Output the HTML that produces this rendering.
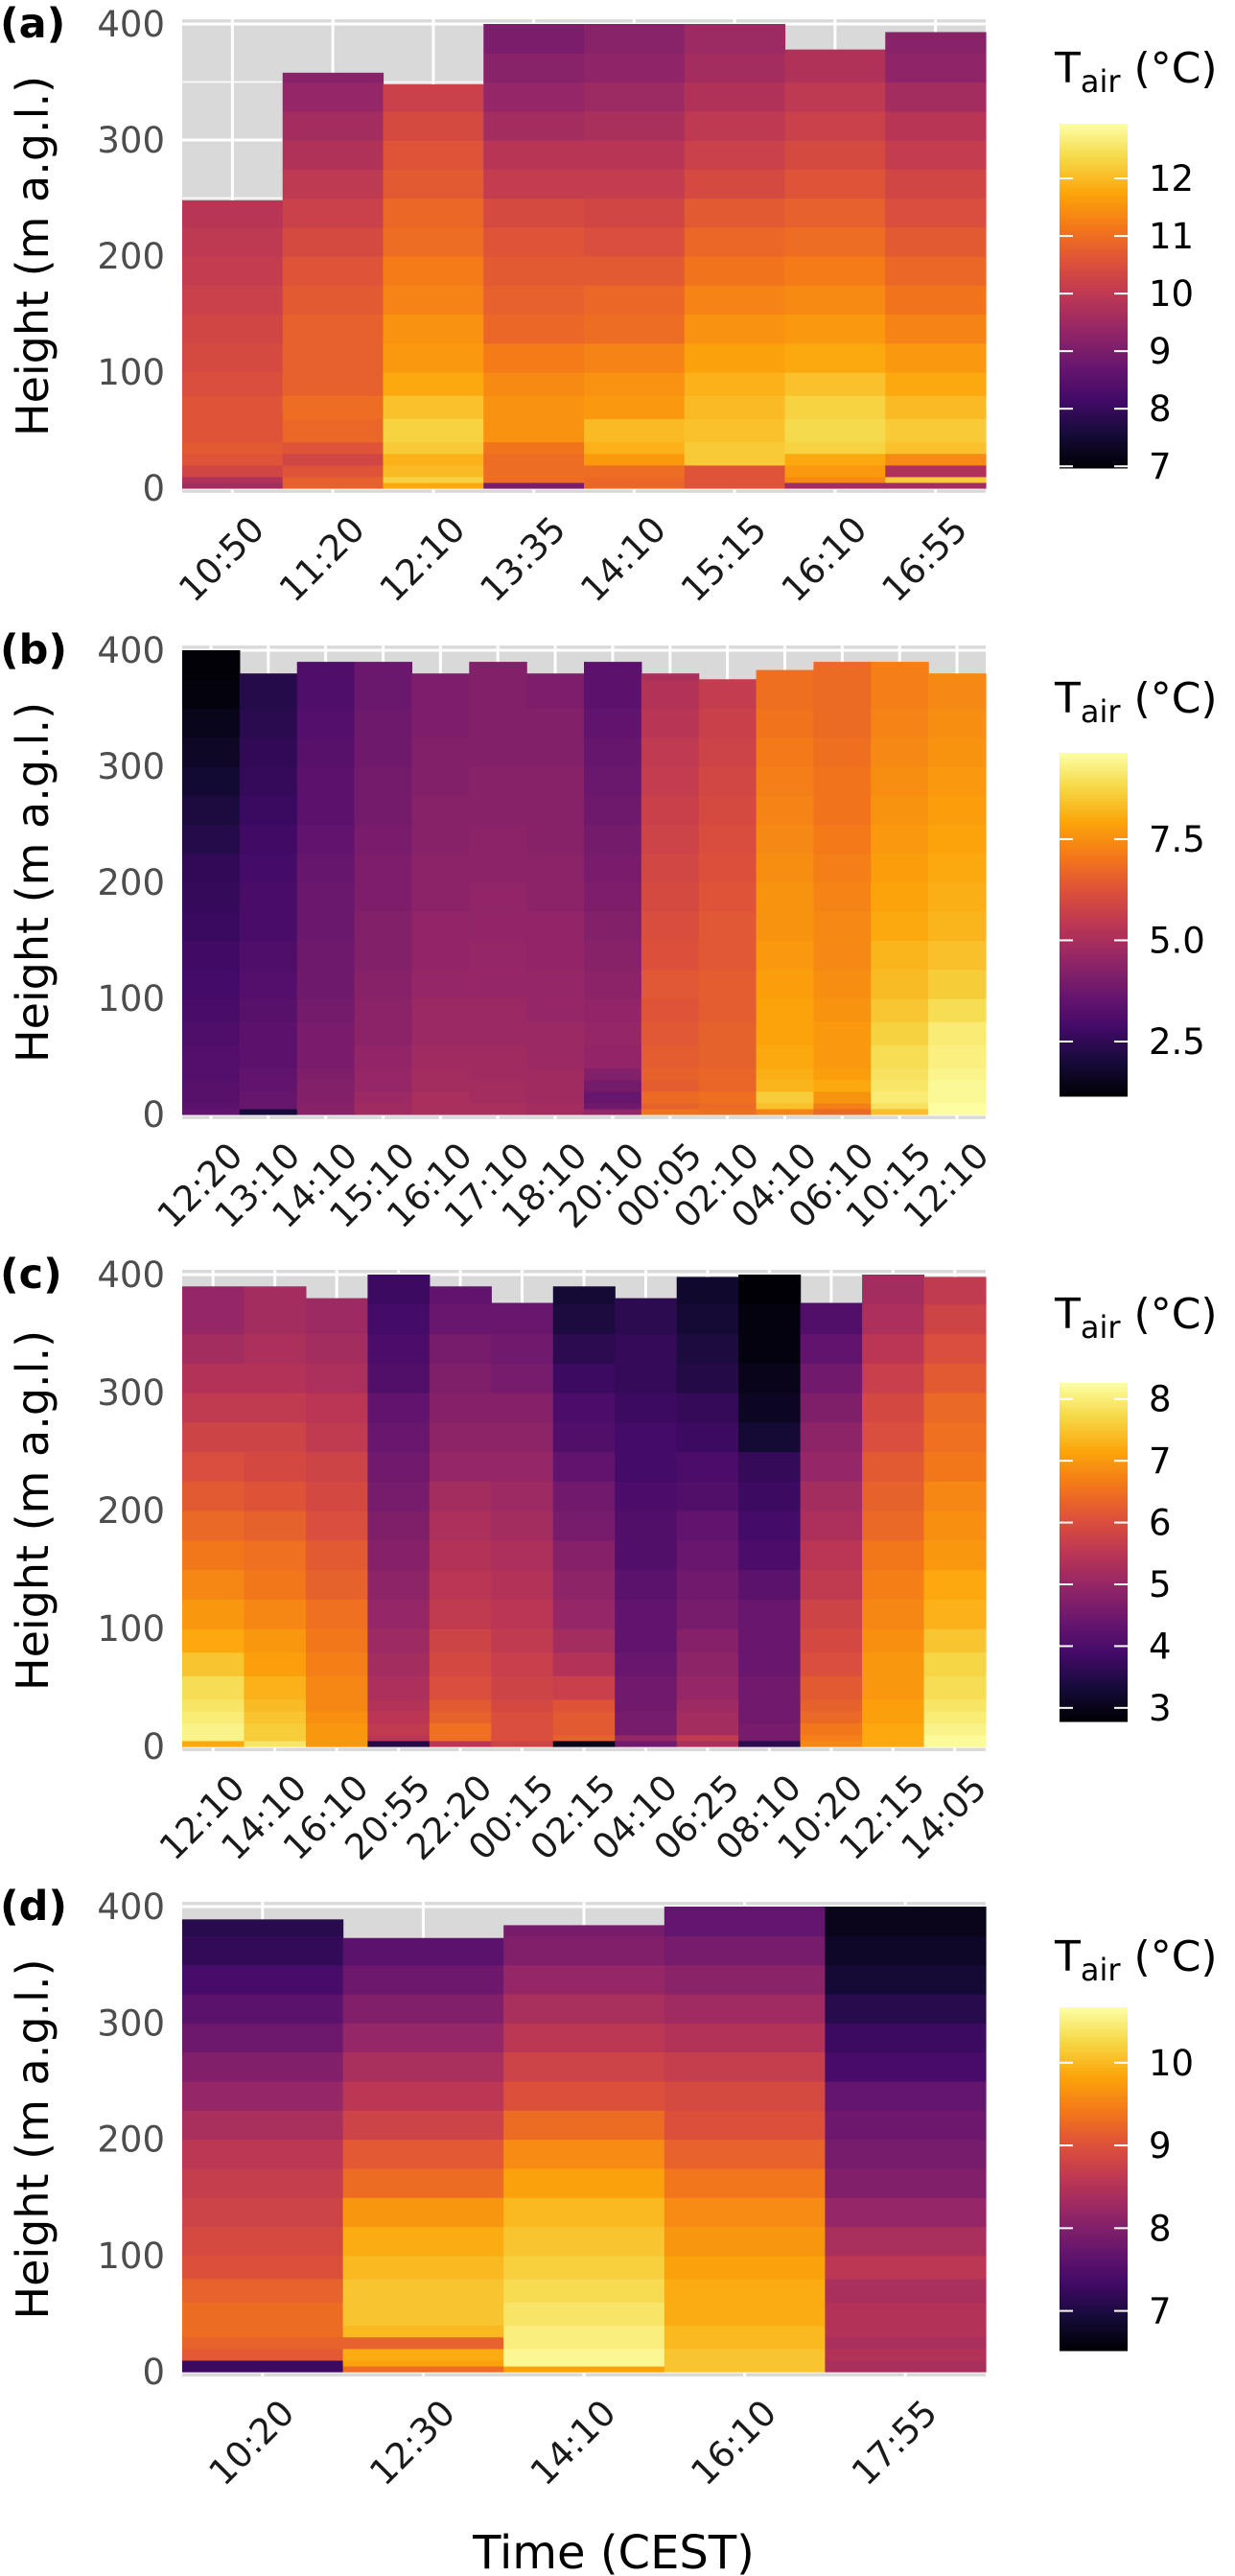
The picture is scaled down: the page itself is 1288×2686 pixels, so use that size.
<!DOCTYPE html>
<html><head><meta charset="utf-8"><style>
html,body{margin:0;padding:0;background:#fff;}
svg{display:block;font-family:"DejaVu Sans","Liberation Sans",sans-serif;}
</style></head><body>
<svg id="fig" width="1288" height="2686" viewBox="0 0 1288 2686" xmlns="http://www.w3.org/2000/svg">
<text x="640" y="2678" font-size="48" text-anchor="middle">Time (CEST)</text>
</svg>
<script>
// shared layer boundaries (m)
const layerBounds = [0,5,10,20,30,40,60,80,100,125,150,175,200,225,250,275,300,325,350,375,400];

// Panel a
const timesA = ["10:50","11:20","12:10","13:35","14:10","15:15","16:10","16:55"];
const topsA = [248,358,348,400,400,400,378,393];
const valsA = [
[9.6,9.8,10.3,10.6,10.7,10.6,10.6,10.5,10.4,10.3,10.2,10.1,10.0,9.9,9.9,9.9,9.9,9.9,9.9,9.9],
[10.8,10.8,10.6,10.3,10.6,10.9,11.0,10.8,10.8,10.8,10.7,10.6,10.4,10.2,10.0,9.8,9.6,9.4,9.2,9.2],
[11.8,12.3,12.0,11.9,12.2,12.3,12.1,11.8,11.6,11.5,11.3,11.2,11.0,10.9,10.7,10.6,10.4,10.2,10.0,10.0],
[9.0,11.0,11.0,11.0,11.1,11.5,11.5,11.4,11.2,10.9,10.8,10.7,10.6,10.4,10.1,9.9,9.6,9.4,9.2,9.0],
[10.9,10.9,11.0,11.6,11.9,12.0,11.6,11.5,11.3,11.0,10.9,10.7,10.5,10.3,10.1,9.9,9.7,9.5,9.3,9.2],
[10.6,10.6,10.6,12.2,12.2,12.1,12.0,11.9,11.7,11.5,11.3,11.1,10.9,10.7,10.4,10.2,10.0,9.8,9.6,9.5],
[9.6,11.4,11.6,11.8,12.3,12.4,12.3,12.1,11.8,11.6,11.4,11.2,11.0,10.8,10.6,10.4,10.2,10.0,9.8,9.8],
[9.6,12.2,9.8,11.4,12.1,12.2,12.0,11.8,11.6,11.3,11.1,10.9,10.7,10.5,10.3,10.1,9.9,9.6,9.3,9.2]];
const ticksA = [7,8,9,10,11,12];

// Panel b
const timesB = ["12:20","13:10","14:10","15:10","16:10","17:10","18:10","20:10","00:05","02:10","04:10","06:10","10:15","12:10"];
const topsB = [400,380,390,390,380,390,380,390,380,375,383,390,390,380];
const valsB = [
[3.5,3.4,3.3,3.3,3.2,3.2,3.1,3.0,2.9,2.8,2.7,2.6,2.5,2.3,2.1,1.9,1.7,1.5,1.3,1.2],
[2.0,3.6,3.6,3.5,3.5,3.4,3.4,3.3,3.2,3.1,3.0,3.0,2.9,2.8,2.7,2.6,2.5,2.4,2.3,2.3],
[4.3,4.3,4.2,4.2,4.1,4.0,4.0,3.9,3.8,3.8,3.7,3.7,3.6,3.5,3.4,3.4,3.3,3.2,3.1,3.1],
[4.8,4.8,4.7,4.6,4.6,4.5,4.4,4.4,4.3,4.2,4.2,4.1,4.1,4.0,3.9,3.9,3.8,3.8,3.7,3.7],
[5.0,5.0,5.0,4.9,4.9,4.8,4.7,4.7,4.6,4.5,4.5,4.4,4.4,4.3,4.3,4.2,4.2,4.1,4.1,4.1],
[5.0,5.0,4.9,4.9,4.8,4.8,4.7,4.7,4.6,4.6,4.5,4.5,4.4,4.4,4.3,4.3,4.2,4.2,4.2,4.2],
[4.9,4.9,4.8,4.8,4.8,4.7,4.7,4.6,4.6,4.5,4.5,4.4,4.4,4.3,4.3,4.3,4.2,4.2,4.1,4.1],
[4.6,3.8,3.6,3.9,4.2,4.5,4.6,4.5,4.4,4.3,4.2,4.1,4.0,3.9,3.8,3.7,3.6,3.5,3.4,3.4],
[7.0,6.6,6.8,6.5,6.6,6.5,6.4,6.3,6.4,6.2,6.1,6.0,5.9,5.8,5.7,5.6,5.5,5.3,5.2,5.0],
[6.9,6.8,6.9,6.7,6.7,6.6,6.6,6.5,6.5,6.4,6.4,6.3,6.2,6.1,6.0,5.9,5.8,5.7,5.6,5.6],
[7.3,8.4,8.6,8.2,8.1,8.0,7.9,7.9,7.8,7.7,7.6,7.6,7.5,7.4,7.3,7.2,7.1,7.0,6.9,6.9],
[6.8,7.2,7.6,8.0,7.8,7.7,7.7,7.6,7.5,7.4,7.4,7.3,7.2,7.1,7.0,7.0,6.9,6.8,6.8,6.8],
[8.4,9.0,9.2,9.1,9.0,8.9,8.7,8.5,8.3,8.2,8.0,7.9,7.8,7.7,7.6,7.5,7.4,7.3,7.2,7.2],
[9.6,9.6,9.5,9.5,9.4,9.3,9.2,8.9,8.6,8.4,8.2,8.1,8.0,7.9,7.8,7.7,7.6,7.5,7.4,7.4]];
const ticksB = [2.5,5.0,7.5];

// Panel c
const timesC = ["12:10","14:10","16:10","20:55","22:20","00:15","02:15","04:10","06:25","08:10","10:20","12:15","14:05"];
const topsC = [390,390,380,400,390,376,390,380,398,400,376,400,398];
const valsC = [
[7.2,8.1,8.1,8.0,7.9,7.8,7.5,7.2,7.0,6.8,6.6,6.4,6.2,6.0,5.8,5.6,5.4,5.2,5.0,5.0],
[7.9,7.6,7.6,7.5,7.4,7.3,7.1,7.0,6.8,6.6,6.5,6.3,6.1,5.9,5.8,5.6,5.4,5.3,5.2,5.2],
[7.0,7.0,7.0,6.9,6.8,6.8,6.7,6.6,6.5,6.3,6.2,6.0,5.9,5.8,5.6,5.5,5.3,5.2,5.1,5.1],
[3.5,5.5,5.6,5.5,5.4,5.3,5.2,5.1,5.0,4.9,4.8,4.7,4.6,4.5,4.4,4.3,4.1,4.0,3.9,3.8],
[5.5,6.5,6.5,6.3,6.2,6.0,5.9,5.8,5.6,5.5,5.4,5.3,5.2,5.0,4.9,4.8,4.7,4.6,4.4,4.3],
[5.8,6.0,6.0,6.0,5.9,5.8,5.7,5.6,5.5,5.4,5.3,5.2,5.1,5.0,4.9,4.8,4.6,4.5,4.4,4.3],
[3.0,6.3,6.2,6.2,6.1,5.7,5.4,5.2,5.0,4.9,4.8,4.6,4.5,4.3,4.1,4.0,3.8,3.6,3.4,3.3],
[4.5,5.0,4.6,4.6,4.5,4.5,4.4,4.3,4.3,4.2,4.1,4.1,4.0,3.9,3.9,3.8,3.7,3.7,3.6,3.6],
[5.3,5.6,5.2,5.2,5.1,5.0,4.9,4.8,4.6,4.5,4.4,4.3,4.1,4.0,3.8,3.7,3.5,3.4,3.3,3.2],
[3.6,4.6,4.6,4.5,4.5,4.5,4.4,4.4,4.4,4.2,4.0,3.9,3.8,3.7,3.3,3.1,3.0,2.9,2.9,2.8],
[6.8,6.7,6.6,6.4,6.3,6.2,6.0,5.9,5.8,5.6,5.5,5.3,5.2,5.0,4.9,4.7,4.5,4.3,4.1,4.0],
[7.2,7.2,7.2,7.1,7.1,7.0,7.0,6.9,6.8,6.7,6.6,6.4,6.3,6.2,6.0,5.9,5.7,5.5,5.3,5.2],
[8.2,8.2,8.1,8.0,7.9,7.8,7.7,7.5,7.3,7.2,7.0,6.9,6.8,6.6,6.5,6.4,6.2,6.0,5.8,5.6]];
const ticksC = [3,4,5,6,7,8];

// Panel d
const timesD = ["10:20","12:30","14:10","16:10","17:55"];
const topsD = [389,373,384,400,400];
const valsD = [
[7.3,7.3,9.1,9.2,9.3,9.3,9.2,9.0,8.9,8.8,8.7,8.6,8.4,8.2,8.0,7.8,7.6,7.4,7.2,7.1],
[9.3,9.8,9.9,9.2,10.0,10.1,10.1,10.0,9.9,9.7,9.3,9.1,8.8,8.6,8.4,8.2,8.0,7.8,7.6,7.5],
[9.8,10.6,10.6,10.5,10.5,10.4,10.3,10.2,10.1,10.0,9.8,9.6,9.3,9.0,8.8,8.6,8.4,8.2,8.0,7.9],
[10.1,10.1,10.1,10.0,10.0,9.9,9.9,9.8,9.7,9.6,9.4,9.2,9.0,8.9,8.7,8.5,8.3,8.1,7.9,7.7],
[8.4,8.4,8.5,8.4,8.5,8.5,8.4,8.6,8.4,8.2,8.0,7.9,7.8,7.7,7.4,7.3,7.1,6.9,6.8,6.7]];
const ticksD = [7,8,9,10];

const heightTicks = [0,100,200,300,400];

const NS = "http://www.w3.org/2000/svg";
const svg = document.getElementById("fig");
const inferno = ["#000004","#160b39","#420a68","#6a176e","#932667","#bc3754","#dd513a","#f37819","#fca50a","#f6d746","#fcffa4"];
function hex(c){return [1,3,5].map(i=>parseInt(c.substr(i,2),16));}
function cmap(t){
  t=Math.max(0,Math.min(1,t));
  const p=t*(inferno.length-1), i=Math.min(Math.floor(p),inferno.length-2), f=p-i;
  const a=hex(inferno[i]), b=hex(inferno[i+1]);
  return "rgb("+a.map((v,k)=>Math.round(v+(b[k]-v)*f)).join(",")+")";
}
function mk(tag, attrs, parent){
  const e=document.createElementNS(NS,tag);
  for(const k in attrs) e.setAttribute(k,attrs[k]);
  (parent||svg).appendChild(e); return e;
}

const panels = [
 {id:"a",times:timesA,tops:topsA,vals:valsA,ticks:ticksA,y0:509,y400:25,cbTop:129,cbBot:488,vmin:6.97,vmax:12.95,titleY:71,fmt:v=>String(v)},
 {id:"b",times:timesB,tops:topsB,vals:valsB,ticks:ticksB,y0:1162,y400:678,cbTop:785,cbBot:1143,vmin:1.15,vmax:9.63,titleY:728,fmt:v=>v.toFixed(1)},
 {id:"c",times:timesC,tops:topsC,vals:valsC,ticks:ticksC,y0:1821,y400:1329,cbTop:1442,cbBot:1795,vmin:2.78,vmax:8.26,titleY:1370,fmt:v=>String(v)},
 {id:"d",times:timesD,tops:topsD,vals:valsD,ticks:ticksD,y0:2473,y400:1988,cbTop:2093,cbBot:2451,vmin:6.52,vmax:10.67,titleY:2040,fmt:v=>String(v)}
];
const X0=190, X1=1028;

panels.forEach(p=>{
  const g=mk("g",{});
  
  
  const yS=h=>p.y0+(p.y400-p.y0)*h/400;
  const n=p.times.length, cw=(X1-X0)/n;
  const xS=i=>X0+i*cw;
  const bg=mk("rect",{x:X0,y:yS(404),width:X1-X0,height:yS(-4)-yS(404),fill:"#d9d9d9"},g);
  
  
  for(let h=50;h<400;h+=100) mk("line",{x1:X0,x2:X1,y1:yS(h),y2:yS(h),stroke:"#fff","stroke-width":1.5},g);
  heightTicks.forEach(h=>mk("line",{x1:X0,x2:X1,y1:yS(h),y2:yS(h),stroke:"#fff","stroke-width":3},g));
  for(let i=0;i<n;i++) mk("line",{x1:xS(i)+cw/2,x2:xS(i)+cw/2,y1:yS(404),y2:yS(-4),stroke:"#fff","stroke-width":3},g);
  p.vals.forEach((col,i)=>{
    const cg=mk("g",{},g);
    
    
    col.forEach((v,j)=>{
      const lo=layerBounds[j], hi=Math.min(layerBounds[j+1],p.tops[i]);
      if(hi<=lo) return;
      const r=mk("rect",{x:xS(i),y:yS(hi),width:cw+0.6,height:yS(lo)-yS(hi)+0.6,fill:cmap((v-p.vmin)/(p.vmax-p.vmin))},cg);
      
      
    });
  });
  heightTicks.forEach(h=>{
    const t=mk("text",{x:172,y:yS(h)+13,"font-size":37,"text-anchor":"end",fill:"#4d4d4d"},g);
    t.textContent=h;
    
    
  });
  p.times.forEach((s,i)=>{
    const cx=xS(i)+cw/2+16, cy=p.y0+26;
    const t=mk("text",{x:cx,y:cy,"font-size":37,"text-anchor":"end",transform:`rotate(-45 ${cx} ${cy})`,"dominant-baseline":"hanging",fill:"#1a1a1a"},g);
    t.textContent=s;
    
    
  });
  const lab=mk("text",{x:0,y:p.y400+14,"font-size":43,"font-weight":"bold"},g);
  lab.textContent="("+p.id+")";
  
  
  const cyT=(p.y0+p.y400)/2, xt=50;
  const yt=mk("text",{x:xt,y:cyT,"font-size":46,"text-anchor":"middle",transform:`rotate(-90 ${xt} ${cyT})`},g);
  yt.textContent="Height (m a.g.l.)";
  
  
  const lt=mk("text",{x:1100,y:p.titleY+15,"font-size":44},g);
  lt.innerHTML='T<tspan font-size="32" dy="10">air</tspan><tspan dy="-10"> (°C)</tspan>';
  
  
  const cb=mk("g",{},g);
  
  
  const N=120, hgt=(p.cbBot-p.cbTop)/N;
  for(let k=0;k<N;k++) mk("rect",{x:1105,y:p.cbBot-(k+1)*hgt,width:71,height:hgt+0.5,fill:cmap((k+0.5)/N)},cb);
  const cbY=v=>p.cbBot-(v-p.vmin)/(p.vmax-p.vmin)*(p.cbBot-p.cbTop);
  p.ticks.forEach(v=>{
    const y=cbY(v);
    mk("line",{x1:1105,x2:1119,y1:y,y2:y,stroke:"#fff","stroke-width":2},cb);
    mk("line",{x1:1162,x2:1176,y1:y,y2:y,stroke:"#fff","stroke-width":2},cb);
    const t=mk("text",{x:1198,y:y+13,"font-size":37},cb);
    t.textContent=p.fmt(v);
    
    
  });
});
</script>
</body></html>
